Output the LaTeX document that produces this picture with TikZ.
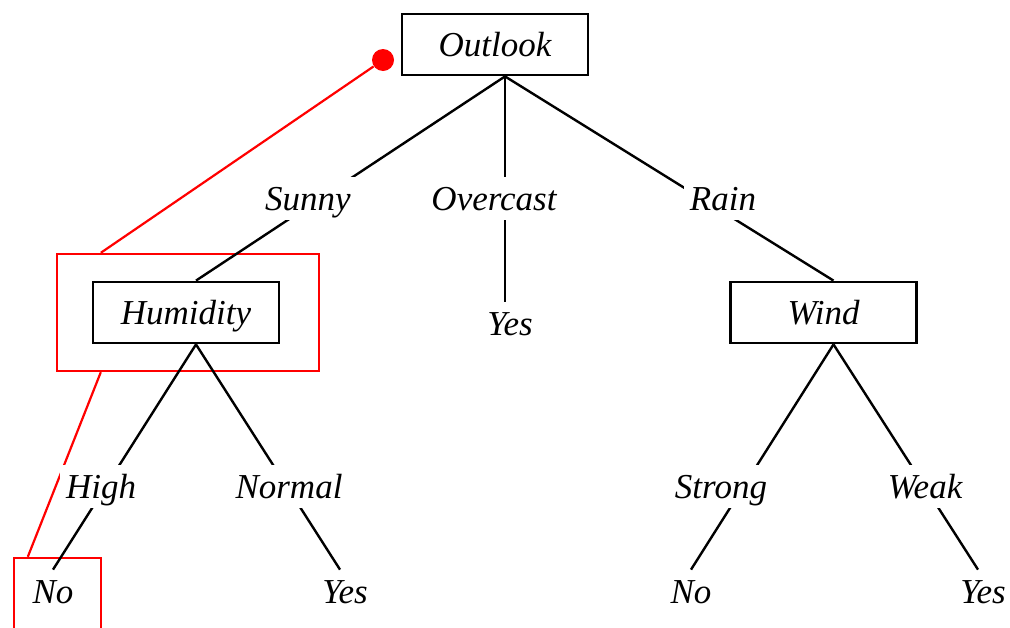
\documentclass[tikz,border=0pt]{standalone}
\usepackage{fontspec}
\setmainfont{Liberation Serif}
\usepackage{tikz}

\begin{document}
\begin{tikzpicture}[
    x=0.5pt, y=-0.5pt,
    font=\fontsize{17.5}{21}\selectfont\itshape,
    attr/.style={rectangle, draw, line width=1.4pt, minimum width=93pt, minimum height=30.5pt, text height=11.5pt, text depth=0pt},
    leaf/.style={inner xsep=2pt, inner ysep=5pt, text height=11.5pt, text depth=0pt},
    val/.style={fill=white, inner xsep=3pt, inner ysep=5pt, text height=11.5pt, text depth=0pt},
    edge/.style={line width=1.2pt},
    sel/.style={rectangle, draw=red, line width=1.2pt, inner sep=0pt},
    pick/.style={red, line width=1.1pt}
]
\clip (0,0) rectangle (1010,627);

% Selected path (red)
\node[circle, fill=red, inner sep=0pt, minimum size=11pt] (pin) at (383,60) {};
\node[sel, minimum width=131pt, minimum height=58.5pt] (hsel) at (188,312.5) {};
\node[sel, minimum width=43.5pt, minimum height=42pt] (nsel) at (57.5,600) {};
\draw[pick] (pin) -- ([xshift=22.5pt]hsel.north west);
\draw[pick] ([xshift=22.5pt]hsel.south west) -- ([xshift=7.5pt]nsel.north west);

% Attribute tests
\node[attr] (outlook) at (495,44.5) {Outlook};
\node[attr] (hum) at (186,312.5) {Humidity};
\node[attr] (wind) at (823.5,312.5) {Wind};

% Leaves
\node[leaf] (yes1) at (510,323.5) {Yes};
\node[leaf] (no1) at (53,591.5) {No};
\node[leaf] (yes2) at (345,591.5) {Yes};
\node[leaf] (no2) at (691,591.5) {No};
\node[leaf] (yes3) at (983,591.5) {Yes};

% Branches
\draw[edge] ([xshift=5pt]outlook.south) -- ([xshift=5pt]hum.north);
\draw[edge] ([xshift=5pt]outlook.south) -- ([xshift=-2.5pt]yes1.north);
\draw[edge] ([xshift=5pt]outlook.south) -- ([xshift=5pt]wind.north);
\draw[edge] ([xshift=5pt]hum.south) -- (no1.north);
\draw[edge] ([xshift=5pt]hum.south) -- ([xshift=-2.5pt]yes2.north);
\draw[edge] ([xshift=5pt]wind.south) -- (no2.north);
\draw[edge] ([xshift=5pt]wind.south) -- ([xshift=-2.5pt]yes3.north);

% Branch values
\node[val] (sunny) at (308,198.5) {Sunny};
\node[val] (overcast) at (494,198.5) {Overcast};
\node[val] (rain) at (723,198.5) {Rain};
\node[val] (high) at (101,486.5) {High};
\node[val] (normal) at (289,486.5) {Normal};
\node[val] (strong) at (721,486.5) {Strong};
\node[val] (weak) at (925,486.5) {Weak};

\end{tikzpicture}
\end{document}
